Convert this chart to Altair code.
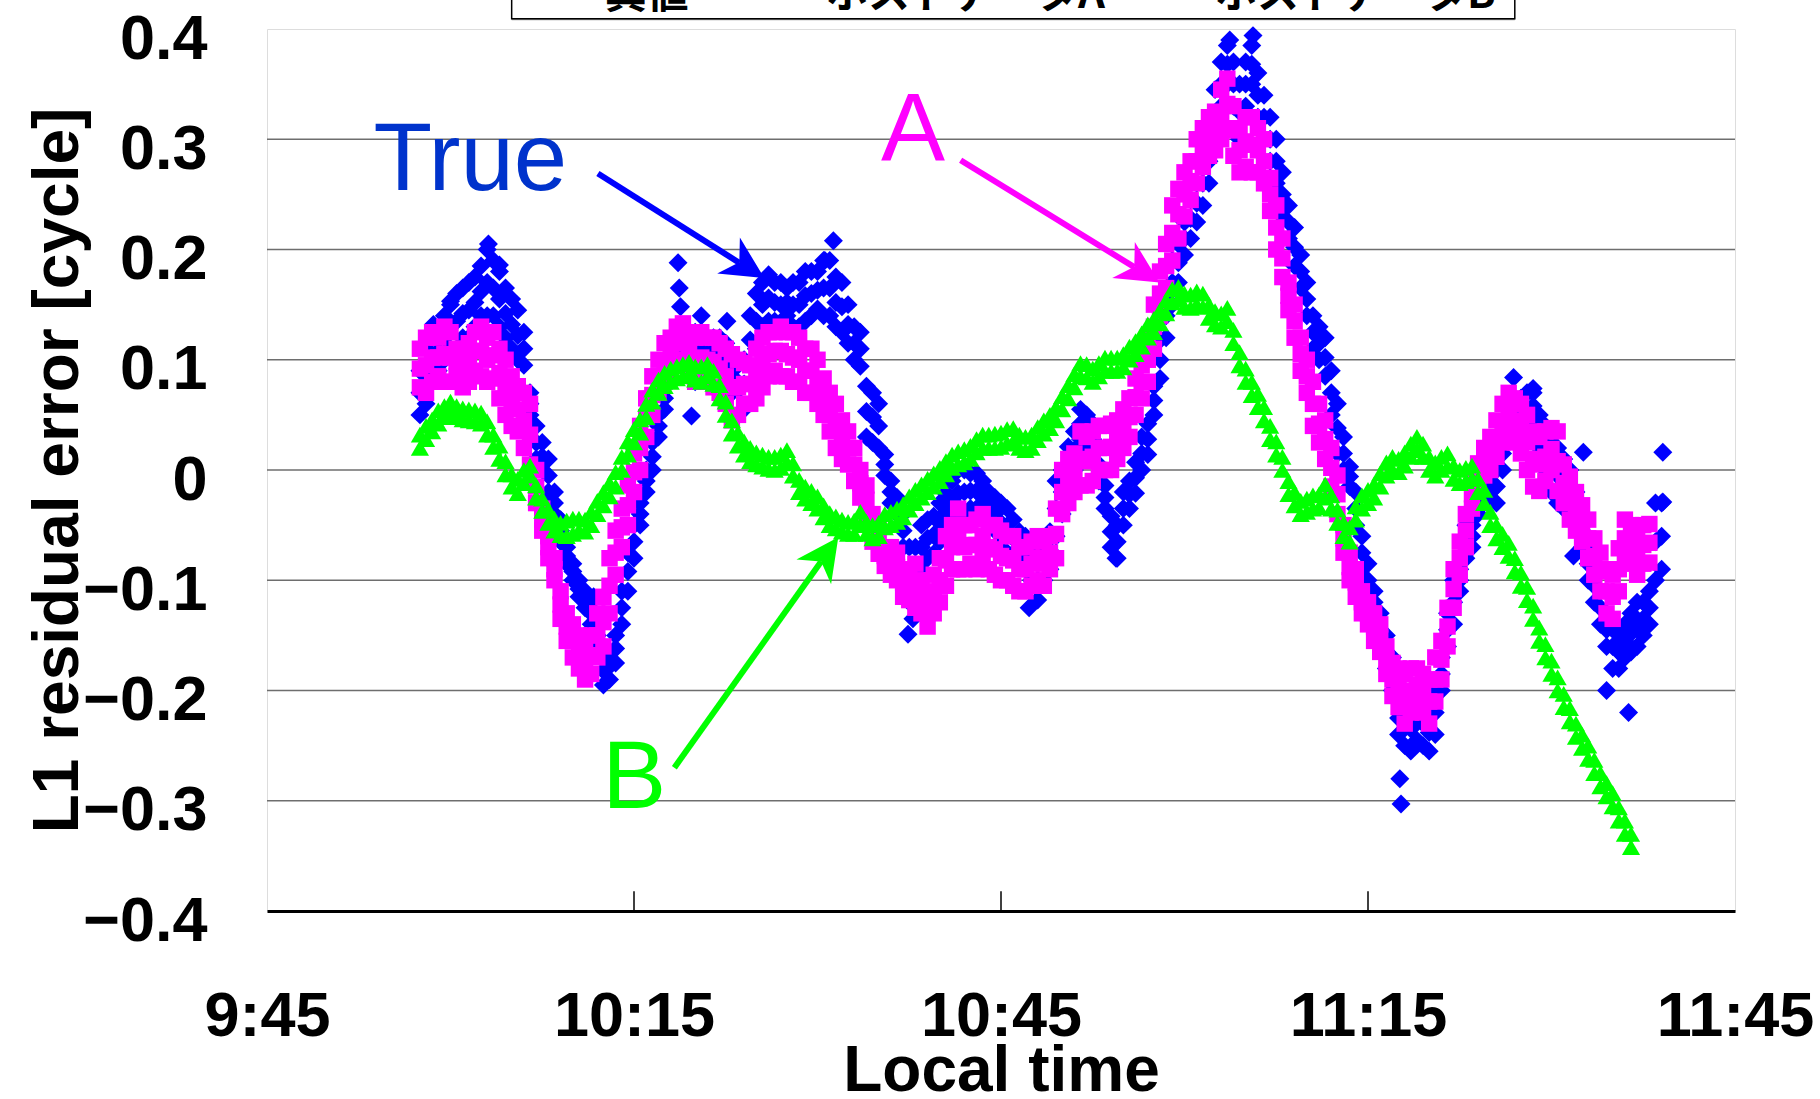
import altair as alt
import pandas as pd

# ---------------- data ----------------
# samples every 0.5 min starting 9:57:30 (minutes after midnight)
SAMPLE_START = 597.5
SAMPLE_STEP = 0.5
BASE = 585  # 9:45

series_names = ["真値", "ホストデータA", "ホストデータB"]
series_colors = ["#0000FF", "#FF00FF", "#00FF00"]

# True (blue diamonds): lower edge / middle / upper edge of the scatter band
true_lo = [
    0.050, 0.060, 0.080, 0.090, 0.100, 0.110, 0.110, 0.120, 0.120, 0.130,
    0.140, 0.140, 0.140, 0.130, 0.120, 0.110, 0.100, 0.095, 0.050, 0.010,
    0.000, -0.020, -0.040, -0.065, -0.085, -0.100, -0.115, -0.125, -0.140, -0.160,
    -0.195, -0.190, -0.175, -0.140, -0.110, -0.080, -0.050, -0.020, 0.000, 0.030,
    0.055, 0.085, 0.100, 0.100, 0.095, 0.080, 0.090, 0.090, 0.095, 0.095,
    0.090, 0.070, 0.050, 0.055, 0.095, 0.110, 0.130, 0.135, 0.135, 0.130,
    0.140, 0.130, 0.130, 0.135, 0.140, 0.146, 0.140, 0.140, 0.130, 0.125,
    0.115, 0.100, 0.094, 0.030, 0.025, 0.020, -0.005, -0.030, -0.040, -0.070,
    -0.120, -0.110, -0.090, -0.080, -0.076, -0.065, -0.056, -0.045, -0.042, -0.040,
    -0.035, -0.035, -0.040, -0.050, -0.055, -0.065, -0.075, -0.078, -0.083, -0.090,
    -0.100, -0.118, -0.100, -0.090, -0.060, -0.040, -0.021, 0.000, 0.028, 0.020,
    0.014, -0.010, -0.035, -0.070, -0.080, -0.050, -0.035, -0.021, 0.000, 0.014,
    0.050, 0.083, 0.120, 0.150, 0.170, 0.195, 0.210, 0.225, 0.240, 0.260,
    0.300, 0.330, 0.350, 0.330, 0.300, 0.330, 0.350, 0.320, 0.300, 0.280,
    0.260, 0.230, 0.210, 0.185, 0.165, 0.140, 0.110, 0.100, 0.085, 0.050,
    0.015, 0.000, -0.015, -0.050, -0.090, -0.115, -0.130, -0.160, -0.180, -0.200,
    -0.240, -0.250, -0.255, -0.245, -0.250, -0.255, -0.240, -0.200, -0.160, -0.140,
    -0.110, -0.080, -0.070, -0.040, -0.030, -0.020, -0.030, 0.000, 0.030, 0.035,
    0.030, 0.040, 0.045, 0.020, 0.000, -0.020, -0.030, -0.035, -0.040, -0.050,
    -0.070, -0.100, -0.120, -0.140, -0.160, -0.180, -0.180, -0.170, -0.165, -0.160,
    -0.150, -0.140, -0.100, -0.090,
]
true_mid = [
    0.070, 0.085, 0.100, 0.108, 0.120, 0.130, 0.135, 0.142, 0.145, 0.152,
    0.162, 0.170, 0.165, 0.155, 0.142, 0.132, 0.122, 0.110, 0.060, 0.025,
    0.012, -0.005, -0.030, -0.055, -0.078, -0.092, -0.108, -0.118, -0.130, -0.150,
    -0.182, -0.178, -0.162, -0.125, -0.092, -0.065, -0.040, -0.010, 0.012, 0.040,
    0.065, 0.100, 0.112, 0.112, 0.110, 0.102, 0.108, 0.105, 0.108, 0.108,
    0.102, 0.085, 0.072, 0.078, 0.118, 0.135, 0.150, 0.156, 0.152, 0.150,
    0.152, 0.150, 0.150, 0.158, 0.160, 0.163, 0.165, 0.165, 0.152, 0.148,
    0.132, 0.115, 0.110, 0.053, 0.048, 0.040, 0.005, -0.020, -0.032, -0.055,
    -0.095, -0.090, -0.070, -0.062, -0.059, -0.048, -0.038, -0.028, -0.021, -0.020,
    -0.019, -0.019, -0.025, -0.035, -0.040, -0.048, -0.055, -0.062, -0.070, -0.075,
    -0.085, -0.100, -0.085, -0.073, -0.035, -0.020, 0.000, 0.018, 0.042, 0.035,
    0.028, 0.005, -0.025, -0.056, -0.065, -0.035, -0.022, -0.007, 0.015, 0.028,
    0.063, 0.100, 0.140, 0.170, 0.188, 0.210, 0.228, 0.242, 0.260, 0.280,
    0.322, 0.350, 0.368, 0.350, 0.325, 0.350, 0.368, 0.340, 0.320, 0.300,
    0.280, 0.250, 0.225, 0.202, 0.180, 0.155, 0.125, 0.115, 0.102, 0.070,
    0.038, 0.015, -0.006, -0.035, -0.075, -0.100, -0.120, -0.145, -0.165, -0.185,
    -0.225, -0.230, -0.235, -0.228, -0.230, -0.238, -0.220, -0.185, -0.145, -0.120,
    -0.100, -0.065, -0.060, -0.030, -0.020, -0.010, -0.015, 0.015, 0.045, 0.048,
    0.048, 0.055, 0.058, 0.035, 0.020, 0.005, -0.005, -0.012, -0.020, -0.035,
    -0.055, -0.085, -0.105, -0.125, -0.145, -0.160, -0.165, -0.155, -0.148, -0.140,
    -0.135, -0.125, -0.065, -0.060,
]
true_hi = [
    0.090, 0.110, 0.120, 0.125, 0.140, 0.150, 0.160, 0.165, 0.170, 0.175,
    0.185, 0.200, 0.190, 0.180, 0.165, 0.155, 0.145, 0.125, 0.070, 0.040,
    0.025, 0.010, -0.020, -0.045, -0.070, -0.085, -0.100, -0.110, -0.120, -0.140,
    -0.170, -0.165, -0.150, -0.110, -0.075, -0.050, -0.030, 0.000, 0.025, 0.050,
    0.076, 0.115, 0.125, 0.125, 0.125, 0.125, 0.125, 0.120, 0.120, 0.120,
    0.115, 0.100, 0.095, 0.100, 0.140, 0.160, 0.170, 0.177, 0.170, 0.170,
    0.165, 0.170, 0.170, 0.180, 0.180, 0.180, 0.190, 0.190, 0.175, 0.170,
    0.150, 0.130, 0.125, 0.076, 0.070, 0.060, 0.014, -0.010, -0.025, -0.040,
    -0.070, -0.070, -0.050, -0.045, -0.042, -0.030, -0.021, -0.010, 0.000, 0.000,
    -0.003, -0.003, -0.010, -0.020, -0.025, -0.030, -0.035, -0.045, -0.056, -0.060,
    -0.070, -0.083, -0.070, -0.056, -0.010, 0.000, 0.021, 0.035, 0.055, 0.050,
    0.042, 0.020, -0.014, -0.042, -0.050, -0.020, -0.010, 0.007, 0.030, 0.042,
    0.076, 0.118, 0.160, 0.190, 0.205, 0.225, 0.245, 0.260, 0.280, 0.300,
    0.345, 0.370, 0.385, 0.370, 0.350, 0.370, 0.385, 0.360, 0.340, 0.320,
    0.300, 0.270, 0.240, 0.220, 0.195, 0.170, 0.140, 0.130, 0.120, 0.090,
    0.060, 0.030, 0.003, -0.020, -0.060, -0.085, -0.110, -0.130, -0.150, -0.170,
    -0.210, -0.210, -0.215, -0.210, -0.210, -0.220, -0.200, -0.170, -0.130, -0.100,
    -0.090, -0.050, -0.050, -0.020, -0.010, 0.000, 0.000, 0.030, 0.060, 0.060,
    0.065, 0.070, 0.070, 0.050, 0.040, 0.030, 0.020, 0.010, 0.000, -0.020,
    -0.040, -0.070, -0.090, -0.110, -0.130, -0.140, -0.150, -0.140, -0.130, -0.120,
    -0.120, -0.110, -0.030, -0.030,
]
# isolated blue points: minutes after 9:45, value
true_out_t = [13.6, 15.0, 18.1, 19.0, 33.6, 33.7, 33.8, 34.7, 35.5, 37.6, 45.6, 46.3,
              52.4, 52.8, 62.3, 69.4, 78.7, 80.6, 92.7, 92.6, 101.9, 103.5, 107.6, 109.5,
              111.3, 114.1, 114.1, 106.8, 26.7]
true_out_v = [0.132, 0.153, 0.205, 0.186, 0.188, 0.165, 0.148, 0.049, 0.140, 0.135, 0.190, 0.208,
              -0.149, -0.135, -0.125, -0.080, 0.390, 0.394, -0.303, -0.280, 0.084, 0.074, 0.016, -0.200,
              -0.220, 0.016, -0.029, -0.078, -0.115]

# Host data A (magenta squares)
a_lo = [
    0.075, 0.070, 0.080, 0.085, 0.080, 0.080, 0.085, 0.075, 0.080, 0.090,
    0.085, 0.080, 0.083, 0.065, 0.050, 0.040, 0.035, 0.020, 0.005, -0.030,
    -0.055, -0.080, -0.100, -0.135, -0.155, -0.170, -0.180, -0.190, -0.185, -0.170,
    -0.160, -0.130, -0.095, -0.070, -0.050, -0.020, 0.000, 0.030, 0.050, 0.070,
    0.080, 0.090, 0.100, 0.100, 0.090, 0.080, 0.080, 0.080, 0.075, 0.070,
    0.060, 0.045, 0.050, 0.060, 0.060, 0.065, 0.075, 0.085, 0.090, 0.085,
    0.085, 0.080, 0.080, 0.070, 0.070, 0.060, 0.050, 0.035, 0.020, 0.010,
    0.005, -0.010, -0.025, -0.040, -0.065, -0.076, -0.087, -0.095, -0.100, -0.115,
    -0.118, -0.125, -0.130, -0.142, -0.130, -0.120, -0.105, -0.090, -0.090, -0.090,
    -0.085, -0.090, -0.080, -0.090, -0.095, -0.100, -0.100, -0.105, -0.110, -0.110,
    -0.105, -0.100, -0.105, -0.090, -0.080, -0.040, -0.030, -0.020, -0.014, -0.014,
    -0.010, 0.000, 0.000, 0.000, 0.010, 0.020, 0.030, 0.050, 0.065, 0.080,
    0.110, 0.140, 0.165, 0.190, 0.210, 0.230, 0.245, 0.260, 0.275, 0.285,
    0.290, 0.300, 0.310, 0.285, 0.270, 0.275, 0.270, 0.270, 0.260, 0.235,
    0.200, 0.175, 0.145, 0.120, 0.090, 0.070, 0.040, 0.025, 0.010, -0.015,
    -0.040, -0.075, -0.100, -0.115, -0.130, -0.140, -0.155, -0.165, -0.185, -0.205,
    -0.215, -0.230, -0.220, -0.210, -0.220, -0.230, -0.210, -0.190, -0.160, -0.125,
    -0.095, -0.070, -0.035, -0.013, -0.005, 0.000, 0.012, 0.025, 0.035, 0.025,
    0.015, 0.000, -0.015, -0.019, -0.010, 0.000, -0.019, -0.030, -0.045, -0.055,
    -0.065, -0.080, -0.095, -0.110, -0.130, -0.135, -0.110, -0.080, -0.085, -0.095,
    -0.085, -0.084,
]
a_mid = [
    0.092, 0.095, 0.102, 0.102, 0.105, 0.102, 0.098, 0.092, 0.098, 0.108,
    0.108, 0.100, 0.104, 0.088, 0.075, 0.062, 0.055, 0.045, 0.032, -0.015,
    -0.045, -0.070, -0.090, -0.122, -0.142, -0.155, -0.165, -0.172, -0.168, -0.150,
    -0.138, -0.105, -0.075, -0.052, -0.032, -0.002, 0.020, 0.048, 0.068, 0.085,
    0.098, 0.105, 0.115, 0.116, 0.108, 0.100, 0.102, 0.100, 0.098, 0.092,
    0.085, 0.075, 0.075, 0.078, 0.078, 0.088, 0.098, 0.105, 0.108, 0.108,
    0.105, 0.102, 0.100, 0.090, 0.090, 0.080, 0.066, 0.052, 0.040, 0.028,
    0.020, 0.005, -0.012, -0.027, -0.052, -0.063, -0.078, -0.082, -0.088, -0.102,
    -0.104, -0.105, -0.115, -0.126, -0.112, -0.100, -0.082, -0.070, -0.062, -0.070,
    -0.068, -0.068, -0.060, -0.070, -0.072, -0.078, -0.080, -0.082, -0.090, -0.090,
    -0.085, -0.080, -0.085, -0.075, -0.058, -0.020, -0.010, -0.002, 0.010, 0.008,
    0.012, 0.020, 0.020, 0.021, 0.028, 0.038, 0.048, 0.066, 0.080, 0.100,
    0.130, 0.160, 0.185, 0.215, 0.232, 0.250, 0.262, 0.280, 0.292, 0.302,
    0.308, 0.322, 0.332, 0.308, 0.290, 0.298, 0.295, 0.290, 0.280, 0.250,
    0.220, 0.192, 0.158, 0.135, 0.105, 0.085, 0.060, 0.042, 0.028, 0.002,
    -0.022, -0.062, -0.088, -0.102, -0.120, -0.130, -0.142, -0.152, -0.172, -0.190,
    -0.198, -0.208, -0.200, -0.195, -0.202, -0.210, -0.190, -0.172, -0.142, -0.108,
    -0.080, -0.055, -0.022, -0.004, 0.008, 0.015, 0.028, 0.042, 0.052, 0.045,
    0.038, 0.025, 0.010, 0.005, 0.012, 0.019, 0.008, -0.012, -0.025, -0.038,
    -0.048, -0.062, -0.078, -0.092, -0.110, -0.115, -0.090, -0.062, -0.068, -0.078,
    -0.068, -0.066,
]
a_hi = [
    0.110, 0.120, 0.125, 0.120, 0.130, 0.125, 0.110, 0.110, 0.115, 0.125,
    0.130, 0.120, 0.125, 0.110, 0.100, 0.085, 0.076, 0.070, 0.060, 0.000,
    -0.035, -0.060, -0.080, -0.110, -0.130, -0.140, -0.150, -0.155, -0.150, -0.130,
    -0.115, -0.080, -0.055, -0.035, -0.014, 0.015, 0.040, 0.065, 0.085, 0.100,
    0.115, 0.120, 0.130, 0.133, 0.125, 0.120, 0.125, 0.120, 0.120, 0.115,
    0.110, 0.105, 0.100, 0.097, 0.095, 0.110, 0.120, 0.125, 0.125, 0.130,
    0.125, 0.125, 0.120, 0.110, 0.110, 0.100, 0.083, 0.070, 0.060, 0.045,
    0.035, 0.020, 0.000, -0.014, -0.040, -0.050, -0.070, -0.070, -0.075, -0.090,
    -0.090, -0.085, -0.100, -0.110, -0.095, -0.080, -0.060, -0.050, -0.035, -0.050,
    -0.050, -0.045, -0.040, -0.050, -0.050, -0.055, -0.060, -0.060, -0.070, -0.070,
    -0.065, -0.060, -0.065, -0.060, -0.035, 0.000, 0.010, 0.015, 0.035, 0.030,
    0.035, 0.040, 0.040, 0.042, 0.045, 0.055, 0.065, 0.083, 0.095, 0.120,
    0.150, 0.180, 0.205, 0.240, 0.255, 0.270, 0.280, 0.300, 0.310, 0.320,
    0.325, 0.345, 0.355, 0.330, 0.310, 0.320, 0.320, 0.310, 0.300, 0.265,
    0.240, 0.210, 0.170, 0.150, 0.120, 0.100, 0.080, 0.060, 0.045, 0.020,
    -0.005, -0.050, -0.075, -0.090, -0.110, -0.120, -0.130, -0.140, -0.160, -0.175,
    -0.180, -0.185, -0.180, -0.180, -0.185, -0.190, -0.170, -0.155, -0.125, -0.090,
    -0.065, -0.040, -0.010, 0.006, 0.020, 0.030, 0.045, 0.060, 0.070, 0.065,
    0.060, 0.050, 0.035, 0.030, 0.035, 0.038, 0.035, 0.005, -0.006, -0.020,
    -0.032, -0.045, -0.062, -0.075, -0.090, -0.095, -0.071, -0.045, -0.050, -0.060,
    -0.050, -0.049,
]

# Host data B (green triangles): band centre / upper edge
b_val = [
    0.020, 0.028, 0.035, 0.042, 0.048, 0.052, 0.048, 0.046, 0.045, 0.044,
    0.042, 0.032, 0.021, 0.010, -0.004, -0.015, -0.021, -0.012, -0.005, -0.025,
    -0.037, -0.048, -0.055, -0.059, -0.060, -0.058, -0.055, -0.056, -0.050, -0.040,
    -0.032, -0.024, -0.015, 0.000, 0.014, 0.025, 0.034, 0.048, 0.062, 0.070,
    0.076, 0.080, 0.083, 0.085, 0.087, 0.082, 0.080, 0.085, 0.078, 0.065,
    0.050, 0.033, 0.022, 0.014, 0.008, 0.005, 0.003, 0.001, 0.000, 0.002,
    0.007, -0.005, -0.020, -0.026, -0.030, -0.035, -0.043, -0.050, -0.053, -0.056,
    -0.058, -0.058, -0.050, -0.058, -0.062, -0.060, -0.052, -0.050, -0.047, -0.043,
    -0.036, -0.030, -0.025, -0.020, -0.015, -0.010, -0.004, 0.002, 0.005, 0.007,
    0.010, 0.016, 0.020, 0.020, 0.020, 0.021, 0.024, 0.026, 0.020, 0.018,
    0.020, 0.027, 0.033, 0.038, 0.045, 0.055, 0.065, 0.075, 0.085, 0.084,
    0.080, 0.085, 0.090, 0.090, 0.090, 0.093, 0.100, 0.105, 0.112, 0.120,
    0.125, 0.133, 0.142, 0.152, 0.155, 0.148, 0.147, 0.150, 0.148, 0.138,
    0.132, 0.130, 0.135, 0.115, 0.095, 0.080, 0.068, 0.057, 0.045, 0.028,
    0.014, 0.000, -0.022, -0.032, -0.040, -0.038, -0.035, -0.034, -0.025, -0.035,
    -0.048, -0.060, -0.065, -0.045, -0.035, -0.030, -0.025, -0.015, -0.005, 0.000,
    -0.002, 0.004, 0.012, 0.018, 0.012, 0.000, -0.005, 0.000, 0.003, -0.008,
    -0.012, -0.010, -0.008, -0.020, -0.030, -0.050, -0.062, -0.070, -0.078, -0.092,
    -0.105, -0.118, -0.135, -0.155, -0.170, -0.185, -0.200, -0.215, -0.228, -0.242,
    -0.252, -0.262, -0.275, -0.287, -0.296, -0.305, -0.318, -0.330, -0.342,
]
b_hi = [
    0.032, 0.040, 0.046, 0.054, 0.058, 0.062, 0.058, 0.056, 0.055, 0.054,
    0.052, 0.044, 0.032, 0.022, 0.008, -0.004, -0.008, 0.000, 0.004, -0.014,
    -0.026, -0.036, -0.044, -0.048, -0.046, -0.044, -0.044, -0.045, -0.038, -0.028,
    -0.020, -0.012, -0.002, 0.012, 0.026, 0.037, 0.046, 0.060, 0.073, 0.082,
    0.088, 0.092, 0.094, 0.096, 0.098, 0.094, 0.094, 0.096, 0.090, 0.077,
    0.062, 0.045, 0.034, 0.026, 0.020, 0.016, 0.014, 0.012, 0.012, 0.014,
    0.018, 0.006, -0.009, -0.015, -0.019, -0.024, -0.032, -0.039, -0.042, -0.045,
    -0.047, -0.046, -0.038, -0.047, -0.050, -0.048, -0.040, -0.038, -0.035, -0.031,
    -0.024, -0.018, -0.013, -0.008, -0.003, 0.002, 0.008, 0.014, 0.017, 0.019,
    0.022, 0.028, 0.032, 0.032, 0.033, 0.034, 0.037, 0.038, 0.032, 0.030,
    0.032, 0.039, 0.045, 0.050, 0.057, 0.067, 0.077, 0.087, 0.097, 0.096,
    0.092, 0.097, 0.102, 0.102, 0.102, 0.105, 0.112, 0.117, 0.124, 0.132,
    0.137, 0.145, 0.154, 0.164, 0.166, 0.160, 0.159, 0.162, 0.160, 0.150,
    0.144, 0.142, 0.147, 0.127, 0.107, 0.092, 0.080, 0.069, 0.057, 0.040,
    0.026, 0.012, -0.010, -0.020, -0.028, -0.026, -0.023, -0.022, -0.013, -0.023,
    -0.036, -0.048, -0.052, -0.033, -0.023, -0.018, -0.013, -0.003, 0.007, 0.012,
    0.010, 0.016, 0.024, 0.030, 0.024, 0.012, 0.007, 0.012, 0.015, 0.004,
    0.000, 0.002, 0.004, -0.008, -0.018, -0.038, -0.050, -0.058, -0.066, -0.080,
    -0.093, -0.106, -0.123, -0.143, -0.158, -0.173, -0.188, -0.203, -0.216, -0.230,
    -0.240, -0.250, -0.263, -0.275, -0.284, -0.293, -0.306, -0.318, -0.330,
]

# axis ticks
x_tick_values = [585, 615, 645, 675, 705]
x_tick_labels = ["9:45", "10:15", "10:45", "11:15", "11:45"]
x_inner_ticks = [615, 645, 675]
y_tick_values = [-0.4, -0.3, -0.2, -0.1, 0.0, 0.1, 0.2, 0.3, 0.4]
y_grid_values = [-0.3, -0.2, -0.1, 0.0, 0.1, 0.2, 0.3]

# annotations (minutes after 9:45, value)
ann_text = ["True", "A", "B"]
ann_t = [8.7, 50.2, 27.4]
ann_v = [0.254, 0.281, -0.307]
ann_color = ["#0033CC", "#FF00FF", "#00FF00"]

arrow_color = ["#0000FF", "#FF00FF", "#00FF00"]
arrow_tail_t = [27.05, 56.7, 33.3]
arrow_tail_v = [0.269, 0.281, -0.270]
arrow_neck_t = [38.6, 70.9, 45.3]
arrow_neck_v = [0.188, 0.184, -0.083]
arrow_tip_t = [40.66, 72.95, 46.7]
arrow_tip_v = [0.174, 0.170, -0.061]
arrow_angle = [122.3, 122.2, 35.3]

# legend box (top edge of the picture, mostly cut off)
legend_box_t = [20.0, 102.0]
legend_box_v = [0.4093, 0.48]
legend_label_t = [27.6, 45.7, 77.5]
legend_label_v = 0.4195

# ---------------- tables ----------------
def band(values_lists, name):
    rows = []
    for values in values_lists:
        for i, v in enumerate(values):
            rows.append({"t": SAMPLE_START + SAMPLE_STEP * i, "v": v, "series": name})
    return rows

true_rows = band([true_lo, true_mid, true_hi], series_names[0])
true_rows += [{"t": BASE + t, "v": v, "series": series_names[0]} for t, v in zip(true_out_t, true_out_v)]
a_rows = band([a_lo, a_mid, a_hi], series_names[1])
b_rows = band([b_val, b_hi], series_names[2])

df_true = pd.DataFrame(true_rows)
df_a = pd.DataFrame(a_rows)
df_b = pd.DataFrame(b_rows)

ann = pd.DataFrame({"text": ann_text, "t": [BASE + t for t in ann_t], "v": ann_v, "c": ann_color})
arrows = pd.DataFrame({
    "t0": [BASE + t for t in arrow_tail_t], "v0": arrow_tail_v,
    "t1": [BASE + t for t in arrow_neck_t], "v1": arrow_neck_v,
    "tt": [BASE + t for t in arrow_tip_t], "vt": arrow_tip_v,
    "ang": arrow_angle, "c": arrow_color,
})
grid = pd.DataFrame({"v": y_grid_values})
ticks = pd.DataFrame({"t": x_inner_ticks, "v0": [-0.4] * 3, "v1": [-0.382] * 3})
leg_box = pd.DataFrame({"t0": [BASE + legend_box_t[0]], "t1": [BASE + legend_box_t[1]],
                        "v0": [legend_box_v[0]], "v1": [legend_box_v[1]]})
leg_labels = pd.DataFrame({"text": series_names, "t": [BASE + t for t in legend_label_t],
                           "v": [legend_label_v] * 3})

label_expr = "".join(f"datum.value == {v} ? '{l}' : " for v, l in zip(x_tick_values, x_tick_labels)) + "''"

xscale = alt.Scale(domain=[585, 705], nice=False, zero=False)
yscale = alt.Scale(domain=[-0.4, 0.4], nice=False, zero=False)

x_axis = alt.Axis(
    values=x_tick_values, labelExpr=label_expr, title="Local time", grid=False,
    ticks=False, tickSize=0, domainColor="black", domainWidth=3,
    labelFont="Liberation Sans", labelFontSize=63, labelFontWeight="bold", labelColor="black",
    labelPadding=105, labelBaseline="middle", labelFlush=False, labelOverlap=False,
    titleFont="Liberation Sans", titleFontSize=64, titleFontWeight="bold", titleColor="black",
    titleY=160, titleBaseline="middle",
)
y_axis = alt.Axis(
    values=y_tick_values, format="~g", title="L1 residual error [cycle]", grid=False,
    ticks=False, tickSize=0, domain=False,
    labelFont="Liberation Sans", labelFontSize=63, labelFontWeight="bold", labelColor="black",
    labelPadding=60, labelOffset=10, labelBaseline="middle", labelFlush=False, labelOverlap=False,
    titleFont="Liberation Sans", titleFontSize=64, titleFontWeight="bold", titleColor="black",
    titleX=-209, titleBaseline="middle",
)

X = alt.X("t:Q", scale=xscale, axis=x_axis)
Y = alt.Y("v:Q", scale=yscale, axis=y_axis)

gridlines = alt.Chart(grid).mark_rule(color="#6e6e6e", strokeWidth=1.6).encode(y=Y)

def scatter(df, color, shape, size):
    return alt.Chart(df).mark_point(
        filled=True, opacity=1, strokeWidth=0, color=color, shape=shape, size=size
    ).encode(x=X, y=Y)

pts_true = scatter(df_true, series_colors[0], "diamond", 360)
pts_a = scatter(df_a, series_colors[1], "square", 270)
pts_b = scatter(df_b, series_colors[2], "triangle-up", 330)

inner_ticks = alt.Chart(ticks).mark_rule(color="black", strokeWidth=1.5).encode(
    x="t:Q", y="v0:Q", y2="v1:Q"
)

arrow_lines = alt.Chart(arrows).mark_rule(strokeWidth=6, strokeCap="butt").encode(
    x="t0:Q", y="v0:Q", x2="t1:Q", y2="v1:Q", color=alt.Color("c:N", scale=None)
)
arrow_heads = alt.Chart(arrows).mark_point(
    filled=True, opacity=1, strokeWidth=0, size=1800,
    shape="M0,0L1,2L0,1.4L-1,2Z",
).encode(
    x="tt:Q", y="vt:Q", color=alt.Color("c:N", scale=None), angle=alt.Angle("ang:Q", scale=None)
)

labels = alt.Chart(ann).mark_text(
    font="Liberation Sans", fontSize=96, align="left", baseline="alphabetic"
).encode(
    x="t:Q", y="v:Q", text="text:N", color=alt.Color("c:N", scale=None)
)

legend_rect = alt.Chart(leg_box).mark_rect(
    fill="white", stroke="black", strokeWidth=1.5
).encode(x="t0:Q", x2="t1:Q", y="v0:Q", y2="v1:Q")
legend_shadow = alt.Chart(leg_box).mark_rule(color="#9a9a9a", strokeWidth=3).encode(
    x="t0:Q", x2="t1:Q", y="v0:Q"
)
legend_text = alt.Chart(leg_labels).mark_text(
    font="Noto Sans CJK JP", fontSize=42, fontWeight="bold", align="left",
    baseline="alphabetic", color="black"
).encode(x="t:Q", y="v:Q", text="text:N")

chart = alt.layer(
    gridlines, pts_true, pts_a, pts_b, inner_ticks, arrow_lines, arrow_heads, labels,
    legend_shadow, legend_rect, legend_text,
).properties(
    width=1468, height=882,
    padding={"left": 267, "top": 29, "right": 85, "bottom": 188},
    autosize=alt.AutoSizeParams(type="none"),
).configure_view(
    stroke="black", strokeWidth=1.5
).configure(background="white")

chart.save("out.html", embed_options={"renderer": "svg", "actions": False})
